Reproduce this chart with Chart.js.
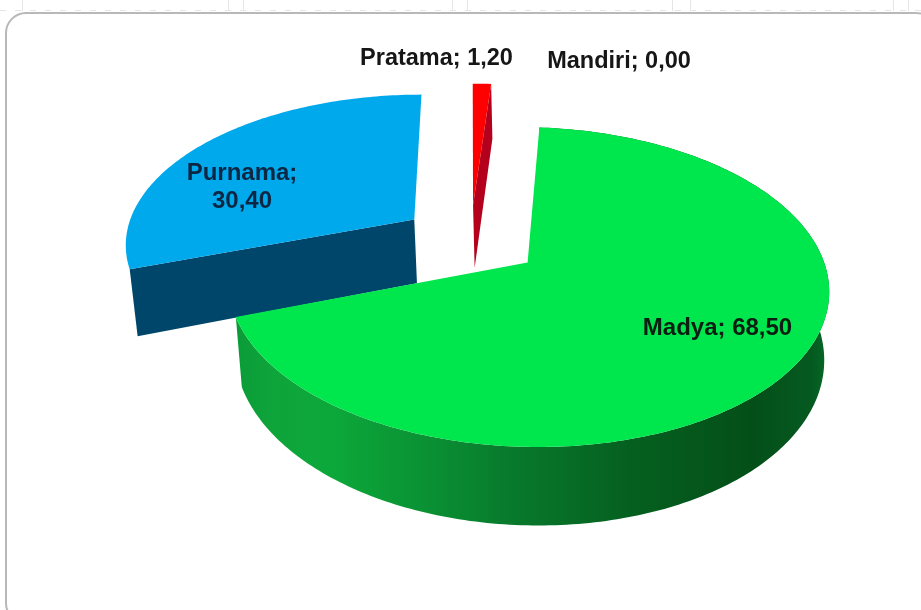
<!DOCTYPE html>
<html><head><meta charset="utf-8">
<style>html,body{margin:0;padding:0;background:#fff}#wrap{width:921px;height:610px;overflow:hidden}canvas{display:block;filter:blur(.5px)}</style>
<script src="https://cdn.jsdelivr.net/npm/chart.js@4/dist/chart.umd.min.js"></script>
</head><body><div id="wrap"><canvas id="c" width="921" height="610"></canvas></div>
<script>
const categories = ['Mandiri', 'Pratama', 'Madya', 'Purnama'];
const values = [0.00, 1.20, 68.50, 30.40];
const valueText = v => v.toFixed(2).replace('.', ',');

const CX = 470.5, CY = 240, RX = 290, RY = 149.3, K = 0.15, DEPTH = 65, BOTTOM_X = 0.9815, PIVOT_X = 559;
const topColors = {Pratama:'#ff0000', Madya:'#00e64d', Purnama:'#00a8ec'};
const sideColors = {Pratama:'#b4001c', Purnama:'#00466a'};
const greenStops = [[0,'#0b9c38'],[0.06,'#0ea53b'],[0.16,'#0ca83a'],[0.33,'#0a8f33'],[0.46,'#087a2c'],[0.66,'#05601f'],[0.87,'#044f19'],[0.97,'#055a20'],[1,'#066b25']];

function project(U, V, low) {
  const w = 1 - K * V;
  const X = CX + RX * U / w, Y = CY + RY * V / w;
  return low ? [PIVOT_X + (X - PIVOT_X) * BOTTOM_X, Y + DEPTH / w] : [X, Y];
}
function arcPoints(a0, a1, ox, oy, low) {
  const n = Math.max(2, Math.ceil(Math.abs(a1 - a0) * 60)), pts = [];
  for (let i = 0; i <= n; i++) {
    const a = a0 + (a1 - a0) * i / n;
    pts.push(project(ox + Math.cos(a), oy + Math.sin(a), low));
  }
  return pts;
}
function fillPoly(ctx, pts, fill) {
  ctx.beginPath();
  pts.forEach((p, i) => i ? ctx.lineTo(p[0], p[1]) : ctx.moveTo(p[0], p[1]));
  ctx.closePath();
  ctx.fillStyle = fill;
  ctx.fill();
}
const pie3d = {
  id: 'pie3d',
  beforeDraw(chart) {
    const ctx = chart.ctx;
    ctx.save();
    ctx.strokeStyle = '#e6e6e6'; ctx.lineWidth = 1;
    [22, 228, 243, 452, 467, 672, 690, 893, 908].forEach(x => { ctx.beginPath(); ctx.moveTo(x + .5, 0); ctx.lineTo(x + .5, 11); ctx.stroke(); });
    ctx.beginPath(); ctx.moveTo(0, 10.5); ctx.lineTo(921, 10.5); ctx.setLineDash([6, 9]); ctx.stroke(); ctx.setLineDash([]);
    ctx.strokeStyle = '#b8b8b8'; ctx.lineWidth = 2;
    ctx.beginPath(); ctx.roundRect(6, 13, 930, 610, 20); ctx.stroke();
    ctx.restore();
  },
  beforeDatasetDraw(chart) {
    const ctx = chart.ctx, arcs = chart.getDatasetMeta(0).data;
    [1, 3, 2].forEach(i => {
      const el = arcs[i], name = categories[i];
      const a0 = el.startAngle, a1 = el.endAngle, mid = (a0 + a1) / 2;
      const off = el.options.offset / el.outerRadius;
      const ox = off * Math.cos(mid), oy = off * Math.sin(mid);
      const hi = arcPoints(a0, a1, ox, oy, false), lo = arcPoints(a0, a1, ox, oy, true);
      const cHi = project(ox, oy, false), cLo = project(ox, oy, true);
      const last = hi.length - 1;
      if (name === 'Madya') {
        const side = ctx.createLinearGradient(238, 0, 830, 0);
        greenStops.forEach(s => side.addColorStop(s[0], s[1]));
        fillPoly(ctx, hi.concat(lo.slice().reverse()), side);
      } else if (name === 'Purnama') {
        fillPoly(ctx, [cHi, hi[0], lo[0], cLo], sideColors[name]);
      } else {
        fillPoly(ctx, [cHi, hi[last], lo[last], cLo], sideColors[name]);
      }
      fillPoly(ctx, [cHi].concat(hi), topColors[name]);
    });
    return false;
  },
  afterDraw(chart) {
    const ctx = chart.ctx;
    ctx.save();
    ctx.textAlign = 'center'; ctx.textBaseline = 'alphabetic';
    const put = (t, x, y, c, size) => {
      ctx.font = 'bold ' + size + 'px "Liberation Sans", Arial, sans-serif';
      ctx.fillStyle = c; ctx.fillText(t, x, y);
    };
    const lab = i => categories[i] + '; ' + valueText(values[i]);
    put(lab(1), 436.5, 65, '#161616', 23.5);
    put(lab(0), 619, 68, '#161616', 23.5);
    put(lab(2), 717.5, 335, '#0a1f12', 24);
    put(categories[3] + ';', 242, 180, '#0b2744', 24);
    put(valueText(values[3]), 242, 208, '#0b2744', 24);
    ctx.restore();
  }
};
new Chart(document.getElementById('c'), {
  type: 'pie',
  data: { labels: categories, datasets: [{ data: values, offset: 66, borderWidth: 0,
    backgroundColor: categories.map(n => topColors[n] || '#888') }] },
  options: { responsive: false, animation: false, events: [],
    plugins: { legend: { display: false }, tooltip: { enabled: false } } },
  plugins: [pie3d]
});
</script></body></html>
